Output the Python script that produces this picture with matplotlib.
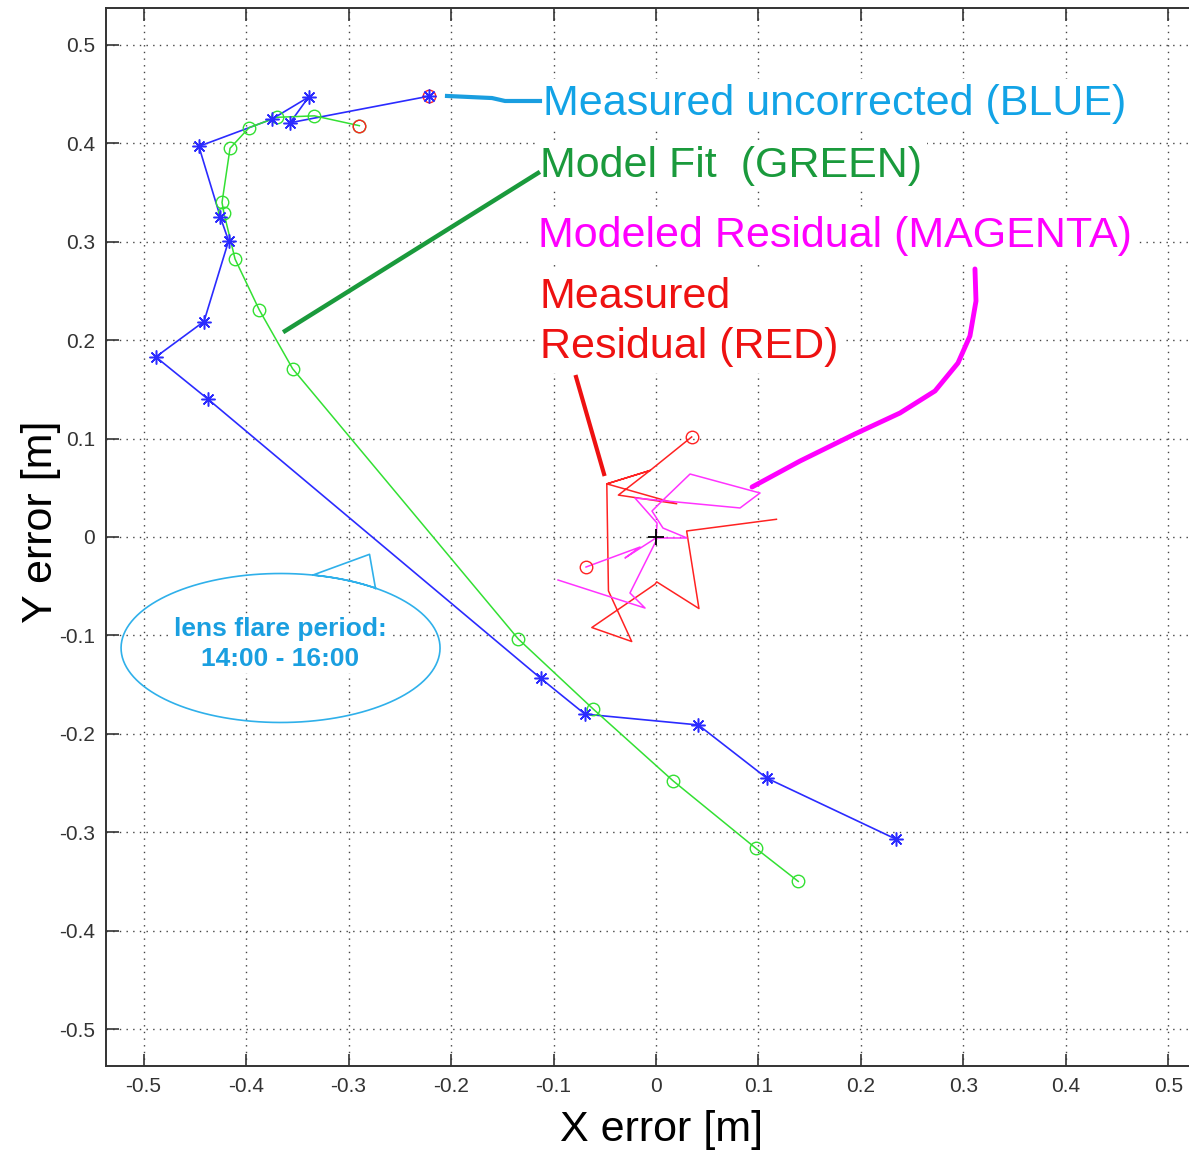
import numpy as np
import matplotlib.pyplot as plt

plt.rcParams['font.family'] = ['Liberation Sans', 'DejaVu Sans']

# measured uncorrected (blue), first point = start
blue_x = [-0.2215, -0.357, -0.339, -0.375, -0.446, -0.425, -0.417, -0.441, -0.488, -0.437,
          -0.1125, -0.0693, 0.0413, 0.108, 0.234]
blue_y = [0.448, 0.421, 0.447, 0.4245, 0.397, 0.325, 0.301, 0.219, 0.183, 0.140,
          -0.1436, -0.180, -0.191, -0.245, -0.307]

# model fit (green)
green_x = [-0.2894, -0.3333, -0.370, -0.397, -0.4156, -0.4234, -0.4215, -0.4107, -0.387, -0.3545,
           -0.1343, -0.0611, 0.0169, 0.0976, 0.1388]
green_y = [0.418, 0.428, 0.4265, 0.416, 0.395, 0.340, 0.329, 0.2825, 0.2307, 0.171,
           -0.1037, -0.175, -0.248, -0.3165, -0.350]

# measured residual (red)
red_x = [0.0348, -0.0058, -0.0367, 0.0202, -0.048, -0.0058, -0.048, -0.0464, -0.0237, -0.0626,
         -0.001, 0.0007, 0.0419, 0.0299, 0.1175]
red_y = [0.1017, 0.0676, 0.0426, 0.0338, 0.054, 0.0676, 0.054, -0.0548, -0.1062, -0.092,
         -0.048, -0.0456, -0.0727, 0.0061, 0.018]

# modeled residual (magenta)
mag_x = [-0.0683, -0.0156, -0.0302, 0.0, 0.0302, 0.0068, -0.0039, 0.0059, 0.0332, 0.1015,
         0.082, -0.0205, 0.001, 0.0, -0.0254, -0.0107, -0.0956]
mag_y = [-0.0305, -0.0102, -0.0213, -0.001, -0.001, 0.0091, 0.0264, 0.0366, 0.064, 0.0447,
         0.0295, 0.0396, 0.0142, -0.0041, -0.0569, -0.0722, -0.0437]

fig = plt.figure(figsize=(11.89, 11.55), dpi=100)
ax = fig.add_axes([106/1189, 89/1155, 1100/1189, 1058/1155])

ax.plot(blue_x, blue_y, color='#2b2bff', lw=1.2, zorder=3)
ax.plot(green_x, green_y, color='#33e033', lw=1.1, marker='o', ms=9, mfc='none', mew=1.0, zorder=3)
ax.plot(red_x, red_y, color='#ff2222', lw=1.1, zorder=3)
ax.plot(mag_x, mag_y, color='#ff33ff', lw=1.1, zorder=3)
# start points
ax.plot([blue_x[0], green_x[0], red_x[0], mag_x[0]], [blue_y[0], green_y[0], red_y[0], mag_y[0]],
        ls='none', marker='o', ms=9, mfc='none', mec='#ff2222', mew=1.0, zorder=4)
ax.plot(blue_x, blue_y, ls='none', color='#2b2bff', marker=(8, 2, 0), ms=10, mew=1.1, zorder=4)
ax.plot([0], [0], ls='none', marker='+', ms=11, color='k', mew=1.3, zorder=5)

ax.set_xlim(-0.5366, 0.5366)
ax.set_ylim(-0.5376, 0.5376)
ticks = np.round(np.arange(-0.5, 0.51, 0.1), 1)
ax.set_xticks(ticks)
ax.set_yticks(ticks)
ax.set_xticklabels(['0' if t == 0 else f'{t:g}' for t in ticks])
ax.set_yticklabels(['0' if t == 0 else f'{t:g}' for t in ticks])
ax.tick_params(direction='in', length=9, width=1.2, top=True, right=True,
               labelsize=15, colors='#333333', pad=8)
ax.grid(True, color='#444444', linestyle=(0, (1, 3.8)), lw=1.0)
for s in ax.spines.values():
    s.set_color('#333333')
    s.set_linewidth(1.4)

ax.set_xlabel('X error [m]', fontsize=31, va='center')
ax.xaxis.set_label_coords(0.5055, -0.0605)
ax.set_ylabel('Y error [m]', fontsize=31, va='center')
ax.yaxis.set_label_coords(-0.059, 0.514)

# annotations
c_blue = '#12a3e6'
c_green = '#1a9a3c'
c_mag = '#ff00ff'
c_red = '#ee1111'
box = dict(boxstyle='square,pad=0.12', facecolor='white', edgecolor='none')
ax.plot([-0.2039, -0.16, -0.1473, -0.1132], [0.4482, 0.4461, 0.4431, 0.4431], color='#1a9ee0', lw=3, zorder=6)
ax.plot([-0.362, -0.1151], [0.2093, 0.3699], color=c_green, lw=3.2, zorder=6)
ax.plot([-0.078, -0.0507], [0.1626, 0.064], color=c_red, lw=3, zorder=6)
ax.plot([0.3112, 0.3122, 0.3063, 0.2946, 0.2722, 0.238, 0.1941, 0.1405, 0.0937],
        [0.2724, 0.2398, 0.2043, 0.1768, 0.1484, 0.126, 0.1047, 0.0772, 0.0508],
        color=c_mag, lw=3.5, zorder=6, solid_capstyle='round')

ax.text(-0.1102, 0.440, 'Measured uncorrected (BLUE)', color=c_blue, fontsize=31, va='center', bbox=box, zorder=5)
ax.text(-0.1132, 0.377, 'Model Fit  (GREEN)', color=c_green, fontsize=31, va='center', bbox=box, zorder=5)
ax.text(-0.1151, 0.306, 'Modeled Residual (MAGENTA)', color=c_mag, fontsize=31, va='center', bbox=box, zorder=5)
ax.text(-0.1132, 0.2185, 'Measured\nResidual (RED)', color=c_red, fontsize=31, va='center',
        linespacing=1.35, bbox=box, zorder=5)

# speech bubble
cx, cy, w, h = -0.3663, -0.1128, 0.3112, 0.1514
t = np.linspace(np.deg2rad(53.6), np.deg2rad(360 + 78.3), 300)
ex = cx + w / 2 * np.cos(t)
ey = cy + h / 2 * np.sin(t)
ex = np.concatenate([ex, [-0.2795, -0.2736, ex[0]]])
ey = np.concatenate([ey, [-0.0176, -0.0526, ey[0]]])
ax.plot(ex, ey, color='#2fb0ea', lw=1.2, zorder=6)
ax.text(-0.3663, -0.1085, 'lens flare period:\n14:00 - 16:00', color='#1a9fe0', fontsize=19,
        fontweight='bold', ha='center', va='center', linespacing=1.3,
        bbox=dict(boxstyle='square,pad=0.1', facecolor='white', edgecolor='none'), zorder=5)

fig.savefig('out.png', dpi=100)
